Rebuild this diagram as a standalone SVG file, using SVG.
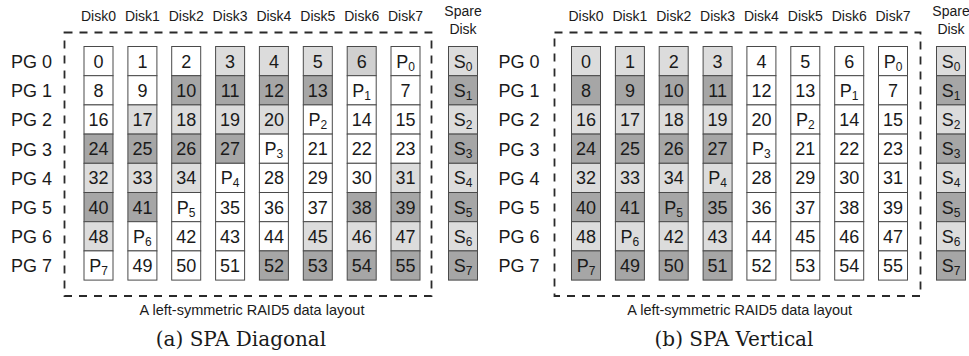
<svg xmlns="http://www.w3.org/2000/svg" width="969" height="356" viewBox="0 0 969 356">
<style>
rect.c{stroke:#4a4a4a;stroke-width:1}
.w{fill:#ffffff}
.l{fill:#dcdcdc}
.m{fill:#d0d0d0}
.d{fill:#a6a6a6}
text{font-family:"Liberation Sans",Arial,sans-serif;fill:#1a1a1a}
.n{font-size:18px;text-anchor:middle}
.pg{font-size:18px}
.hd{font-size:14px;text-anchor:middle}
.cap{font-size:14.5px;text-anchor:middle}
.sub{font-family:"DejaVu Serif","Liberation Serif",serif;font-size:20px;text-anchor:middle}
.box{fill:none;stroke:#2a2a2a;stroke-width:1.8;stroke-dasharray:8 7}
</style>

<!-- ===== Panel (a) ===== -->
<g id="panel-a">
<g id="a-frame"><rect class="box" x="64.5" y="32.5" width="367" height="263.5"/></g>
<g id="a-headers">
<text class="hd" x="98.5" y="21">Disk0</text>
<text class="hd" x="142.4" y="21">Disk1</text>
<text class="hd" x="186.2" y="21">Disk2</text>
<text class="hd" x="230.1" y="21">Disk3</text>
<text class="hd" x="273.9" y="21">Disk4</text>
<text class="hd" x="317.8" y="21">Disk5</text>
<text class="hd" x="361.7" y="21">Disk6</text>
<text class="hd" x="405.5" y="21">Disk7</text>
<text class="hd" x="463" y="16">Spare</text>
<text class="hd" x="463" y="34">Disk</text>
</g>
<g id="a-pg">
<text class="pg" x="11" y="68">PG 0</text>
<text class="pg" x="11" y="97.2">PG 1</text>
<text class="pg" x="11" y="126.4">PG 2</text>
<text class="pg" x="11" y="155.6">PG 3</text>
<text class="pg" x="11" y="184.8">PG 4</text>
<text class="pg" x="11" y="214">PG 5</text>
<text class="pg" x="11" y="243.2">PG 6</text>
<text class="pg" x="11" y="272.4">PG 7</text>
</g>
<g id="a-disk0" transform="translate(84,0)">
<rect class="c w" x="0" y="46.5" width="29" height="29.2"/><text class="n" x="14.5" y="67.6">0</text>
<rect class="c w" x="0" y="75.7" width="29" height="29.2"/><text class="n" x="14.5" y="96.8">8</text>
<rect class="c w" x="0" y="104.9" width="29" height="29.2"/><text class="n" x="14.5" y="126">16</text>
<rect class="c d" x="0" y="134.1" width="29" height="29.2"/><text class="n" x="14.5" y="155.2">24</text>
<rect class="c l" x="0" y="163.3" width="29" height="29.2"/><text class="n" x="14.5" y="184.4">32</text>
<rect class="c d" x="0" y="192.5" width="29" height="29.2"/><text class="n" x="14.5" y="213.6">40</text>
<rect class="c l" x="0" y="221.7" width="29" height="29.2"/><text class="n" x="14.5" y="242.8">48</text>
<rect class="c w" x="0" y="250.9" width="29" height="29.2"/><text class="n" x="14.5" y="272">P<tspan font-size="12" dy="3">7</tspan></text>
</g>
<g id="a-disk1" transform="translate(127.9,0)">
<rect class="c w" x="0" y="46.5" width="29" height="29.2"/><text class="n" x="14.5" y="67.6">1</text>
<rect class="c w" x="0" y="75.7" width="29" height="29.2"/><text class="n" x="14.5" y="96.8">9</text>
<rect class="c l" x="0" y="104.9" width="29" height="29.2"/><text class="n" x="14.5" y="126">17</text>
<rect class="c d" x="0" y="134.1" width="29" height="29.2"/><text class="n" x="14.5" y="155.2">25</text>
<rect class="c l" x="0" y="163.3" width="29" height="29.2"/><text class="n" x="14.5" y="184.4">33</text>
<rect class="c d" x="0" y="192.5" width="29" height="29.2"/><text class="n" x="14.5" y="213.6">41</text>
<rect class="c w" x="0" y="221.7" width="29" height="29.2"/><text class="n" x="14.5" y="242.8">P<tspan font-size="12" dy="3">6</tspan></text>
<rect class="c w" x="0" y="250.9" width="29" height="29.2"/><text class="n" x="14.5" y="272">49</text>
</g>
<g id="a-disk2" transform="translate(171.7,0)">
<rect class="c w" x="0" y="46.5" width="29" height="29.2"/><text class="n" x="14.5" y="67.6">2</text>
<rect class="c d" x="0" y="75.7" width="29" height="29.2"/><text class="n" x="14.5" y="96.8">10</text>
<rect class="c l" x="0" y="104.9" width="29" height="29.2"/><text class="n" x="14.5" y="126">18</text>
<rect class="c d" x="0" y="134.1" width="29" height="29.2"/><text class="n" x="14.5" y="155.2">26</text>
<rect class="c l" x="0" y="163.3" width="29" height="29.2"/><text class="n" x="14.5" y="184.4">34</text>
<rect class="c w" x="0" y="192.5" width="29" height="29.2"/><text class="n" x="14.5" y="213.6">P<tspan font-size="12" dy="3">5</tspan></text>
<rect class="c w" x="0" y="221.7" width="29" height="29.2"/><text class="n" x="14.5" y="242.8">42</text>
<rect class="c w" x="0" y="250.9" width="29" height="29.2"/><text class="n" x="14.5" y="272">50</text>
</g>
<g id="a-disk3" transform="translate(215.6,0)">
<rect class="c l" x="0" y="46.5" width="29" height="29.2"/><text class="n" x="14.5" y="67.6">3</text>
<rect class="c d" x="0" y="75.7" width="29" height="29.2"/><text class="n" x="14.5" y="96.8">11</text>
<rect class="c l" x="0" y="104.9" width="29" height="29.2"/><text class="n" x="14.5" y="126">19</text>
<rect class="c d" x="0" y="134.1" width="29" height="29.2"/><text class="n" x="14.5" y="155.2">27</text>
<rect class="c w" x="0" y="163.3" width="29" height="29.2"/><text class="n" x="14.5" y="184.4">P<tspan font-size="12" dy="3">4</tspan></text>
<rect class="c w" x="0" y="192.5" width="29" height="29.2"/><text class="n" x="14.5" y="213.6">35</text>
<rect class="c w" x="0" y="221.7" width="29" height="29.2"/><text class="n" x="14.5" y="242.8">43</text>
<rect class="c w" x="0" y="250.9" width="29" height="29.2"/><text class="n" x="14.5" y="272">51</text>
</g>
<g id="a-disk4" transform="translate(259.4,0)">
<rect class="c l" x="0" y="46.5" width="29" height="29.2"/><text class="n" x="14.5" y="67.6">4</text>
<rect class="c d" x="0" y="75.7" width="29" height="29.2"/><text class="n" x="14.5" y="96.8">12</text>
<rect class="c l" x="0" y="104.9" width="29" height="29.2"/><text class="n" x="14.5" y="126">20</text>
<rect class="c w" x="0" y="134.1" width="29" height="29.2"/><text class="n" x="14.5" y="155.2">P<tspan font-size="12" dy="3">3</tspan></text>
<rect class="c w" x="0" y="163.3" width="29" height="29.2"/><text class="n" x="14.5" y="184.4">28</text>
<rect class="c w" x="0" y="192.5" width="29" height="29.2"/><text class="n" x="14.5" y="213.6">36</text>
<rect class="c w" x="0" y="221.7" width="29" height="29.2"/><text class="n" x="14.5" y="242.8">44</text>
<rect class="c d" x="0" y="250.9" width="29" height="29.2"/><text class="n" x="14.5" y="272">52</text>
</g>
<g id="a-disk5" transform="translate(303.3,0)">
<rect class="c l" x="0" y="46.5" width="29" height="29.2"/><text class="n" x="14.5" y="67.6">5</text>
<rect class="c d" x="0" y="75.7" width="29" height="29.2"/><text class="n" x="14.5" y="96.8">13</text>
<rect class="c w" x="0" y="104.9" width="29" height="29.2"/><text class="n" x="14.5" y="126">P<tspan font-size="12" dy="3">2</tspan></text>
<rect class="c w" x="0" y="134.1" width="29" height="29.2"/><text class="n" x="14.5" y="155.2">21</text>
<rect class="c w" x="0" y="163.3" width="29" height="29.2"/><text class="n" x="14.5" y="184.4">29</text>
<rect class="c w" x="0" y="192.5" width="29" height="29.2"/><text class="n" x="14.5" y="213.6">37</text>
<rect class="c l" x="0" y="221.7" width="29" height="29.2"/><text class="n" x="14.5" y="242.8">45</text>
<rect class="c d" x="0" y="250.9" width="29" height="29.2"/><text class="n" x="14.5" y="272">53</text>
</g>
<g id="a-disk6" transform="translate(347.2,0)">
<rect class="c m" x="0" y="46.5" width="29" height="29.2"/><text class="n" x="14.5" y="67.6">6</text>
<rect class="c w" x="0" y="75.7" width="29" height="29.2"/><text class="n" x="14.5" y="96.8">P<tspan font-size="12" dy="3">1</tspan></text>
<rect class="c w" x="0" y="104.9" width="29" height="29.2"/><text class="n" x="14.5" y="126">14</text>
<rect class="c w" x="0" y="134.1" width="29" height="29.2"/><text class="n" x="14.5" y="155.2">22</text>
<rect class="c w" x="0" y="163.3" width="29" height="29.2"/><text class="n" x="14.5" y="184.4">30</text>
<rect class="c d" x="0" y="192.5" width="29" height="29.2"/><text class="n" x="14.5" y="213.6">38</text>
<rect class="c l" x="0" y="221.7" width="29" height="29.2"/><text class="n" x="14.5" y="242.8">46</text>
<rect class="c d" x="0" y="250.9" width="29" height="29.2"/><text class="n" x="14.5" y="272">54</text>
</g>
<g id="a-disk7" transform="translate(391,0)">
<rect class="c w" x="0" y="46.5" width="29" height="29.2"/><text class="n" x="14.5" y="67.6">P<tspan font-size="12" dy="3">0</tspan></text>
<rect class="c w" x="0" y="75.7" width="29" height="29.2"/><text class="n" x="14.5" y="96.8">7</text>
<rect class="c w" x="0" y="104.9" width="29" height="29.2"/><text class="n" x="14.5" y="126">15</text>
<rect class="c w" x="0" y="134.1" width="29" height="29.2"/><text class="n" x="14.5" y="155.2">23</text>
<rect class="c l" x="0" y="163.3" width="29" height="29.2"/><text class="n" x="14.5" y="184.4">31</text>
<rect class="c d" x="0" y="192.5" width="29" height="29.2"/><text class="n" x="14.5" y="213.6">39</text>
<rect class="c l" x="0" y="221.7" width="29" height="29.2"/><text class="n" x="14.5" y="242.8">47</text>
<rect class="c d" x="0" y="250.9" width="29" height="29.2"/><text class="n" x="14.5" y="272">55</text>
</g>
<g id="a-spare" transform="translate(448.5,0)">
<rect class="c l" x="0" y="46.5" width="29" height="29.2"/><text class="n" x="14.5" y="67.6">S<tspan font-size="12" dy="3">0</tspan></text>
<rect class="c d" x="0" y="75.7" width="29" height="29.2"/><text class="n" x="14.5" y="96.8">S<tspan font-size="12" dy="3">1</tspan></text>
<rect class="c l" x="0" y="104.9" width="29" height="29.2"/><text class="n" x="14.5" y="126">S<tspan font-size="12" dy="3">2</tspan></text>
<rect class="c d" x="0" y="134.1" width="29" height="29.2"/><text class="n" x="14.5" y="155.2">S<tspan font-size="12" dy="3">3</tspan></text>
<rect class="c l" x="0" y="163.3" width="29" height="29.2"/><text class="n" x="14.5" y="184.4">S<tspan font-size="12" dy="3">4</tspan></text>
<rect class="c d" x="0" y="192.5" width="29" height="29.2"/><text class="n" x="14.5" y="213.6">S<tspan font-size="12" dy="3">5</tspan></text>
<rect class="c l" x="0" y="221.7" width="29" height="29.2"/><text class="n" x="14.5" y="242.8">S<tspan font-size="12" dy="3">6</tspan></text>
<rect class="c d" x="0" y="250.9" width="29" height="29.2"/><text class="n" x="14.5" y="272">S<tspan font-size="12" dy="3">7</tspan></text>
</g>
<g id="a-captions">
<text class="cap" x="252" y="315">A left-symmetric RAID5 data layout</text>
<text class="sub" x="241" y="346">(a) SPA Diagonal</text>
</g>
</g>

<!-- ===== Panel (b) ===== -->
<g id="panel-b">
<g id="b-frame"><rect class="box" x="554.5" y="32.5" width="366" height="263.5"/></g>
<g id="b-headers">
<text class="hd" x="586" y="21">Disk0</text>
<text class="hd" x="629.9" y="21">Disk1</text>
<text class="hd" x="673.7" y="21">Disk2</text>
<text class="hd" x="717.6" y="21">Disk3</text>
<text class="hd" x="761.4" y="21">Disk4</text>
<text class="hd" x="805.3" y="21">Disk5</text>
<text class="hd" x="849.2" y="21">Disk6</text>
<text class="hd" x="893" y="21">Disk7</text>
<text class="hd" x="951" y="16">Spare</text>
<text class="hd" x="951" y="34">Disk</text>
</g>
<g id="b-pg">
<text class="pg" x="498.5" y="68">PG 0</text>
<text class="pg" x="498.5" y="97.2">PG 1</text>
<text class="pg" x="498.5" y="126.4">PG 2</text>
<text class="pg" x="498.5" y="155.6">PG 3</text>
<text class="pg" x="498.5" y="184.8">PG 4</text>
<text class="pg" x="498.5" y="214">PG 5</text>
<text class="pg" x="498.5" y="243.2">PG 6</text>
<text class="pg" x="498.5" y="272.4">PG 7</text>
</g>
<g id="b-disk0" transform="translate(571.5,0)">
<rect class="c l" x="0" y="46.5" width="29" height="29.2"/><text class="n" x="14.5" y="67.6">0</text>
<rect class="c d" x="0" y="75.7" width="29" height="29.2"/><text class="n" x="14.5" y="96.8">8</text>
<rect class="c l" x="0" y="104.9" width="29" height="29.2"/><text class="n" x="14.5" y="126">16</text>
<rect class="c d" x="0" y="134.1" width="29" height="29.2"/><text class="n" x="14.5" y="155.2">24</text>
<rect class="c l" x="0" y="163.3" width="29" height="29.2"/><text class="n" x="14.5" y="184.4">32</text>
<rect class="c d" x="0" y="192.5" width="29" height="29.2"/><text class="n" x="14.5" y="213.6">40</text>
<rect class="c l" x="0" y="221.7" width="29" height="29.2"/><text class="n" x="14.5" y="242.8">48</text>
<rect class="c d" x="0" y="250.9" width="29" height="29.2"/><text class="n" x="14.5" y="272">P<tspan font-size="12" dy="3">7</tspan></text>
</g>
<g id="b-disk1" transform="translate(615.4,0)">
<rect class="c l" x="0" y="46.5" width="29" height="29.2"/><text class="n" x="14.5" y="67.6">1</text>
<rect class="c d" x="0" y="75.7" width="29" height="29.2"/><text class="n" x="14.5" y="96.8">9</text>
<rect class="c l" x="0" y="104.9" width="29" height="29.2"/><text class="n" x="14.5" y="126">17</text>
<rect class="c d" x="0" y="134.1" width="29" height="29.2"/><text class="n" x="14.5" y="155.2">25</text>
<rect class="c l" x="0" y="163.3" width="29" height="29.2"/><text class="n" x="14.5" y="184.4">33</text>
<rect class="c d" x="0" y="192.5" width="29" height="29.2"/><text class="n" x="14.5" y="213.6">41</text>
<rect class="c l" x="0" y="221.7" width="29" height="29.2"/><text class="n" x="14.5" y="242.8">P<tspan font-size="12" dy="3">6</tspan></text>
<rect class="c d" x="0" y="250.9" width="29" height="29.2"/><text class="n" x="14.5" y="272">49</text>
</g>
<g id="b-disk2" transform="translate(659.2,0)">
<rect class="c l" x="0" y="46.5" width="29" height="29.2"/><text class="n" x="14.5" y="67.6">2</text>
<rect class="c d" x="0" y="75.7" width="29" height="29.2"/><text class="n" x="14.5" y="96.8">10</text>
<rect class="c l" x="0" y="104.9" width="29" height="29.2"/><text class="n" x="14.5" y="126">18</text>
<rect class="c d" x="0" y="134.1" width="29" height="29.2"/><text class="n" x="14.5" y="155.2">26</text>
<rect class="c l" x="0" y="163.3" width="29" height="29.2"/><text class="n" x="14.5" y="184.4">34</text>
<rect class="c d" x="0" y="192.5" width="29" height="29.2"/><text class="n" x="14.5" y="213.6">P<tspan font-size="12" dy="3">5</tspan></text>
<rect class="c l" x="0" y="221.7" width="29" height="29.2"/><text class="n" x="14.5" y="242.8">42</text>
<rect class="c d" x="0" y="250.9" width="29" height="29.2"/><text class="n" x="14.5" y="272">50</text>
</g>
<g id="b-disk3" transform="translate(703.1,0)">
<rect class="c l" x="0" y="46.5" width="29" height="29.2"/><text class="n" x="14.5" y="67.6">3</text>
<rect class="c d" x="0" y="75.7" width="29" height="29.2"/><text class="n" x="14.5" y="96.8">11</text>
<rect class="c l" x="0" y="104.9" width="29" height="29.2"/><text class="n" x="14.5" y="126">19</text>
<rect class="c d" x="0" y="134.1" width="29" height="29.2"/><text class="n" x="14.5" y="155.2">27</text>
<rect class="c l" x="0" y="163.3" width="29" height="29.2"/><text class="n" x="14.5" y="184.4">P<tspan font-size="12" dy="3">4</tspan></text>
<rect class="c d" x="0" y="192.5" width="29" height="29.2"/><text class="n" x="14.5" y="213.6">35</text>
<rect class="c l" x="0" y="221.7" width="29" height="29.2"/><text class="n" x="14.5" y="242.8">43</text>
<rect class="c d" x="0" y="250.9" width="29" height="29.2"/><text class="n" x="14.5" y="272">51</text>
</g>
<g id="b-disk4" transform="translate(746.9,0)">
<rect class="c w" x="0" y="46.5" width="29" height="29.2"/><text class="n" x="14.5" y="67.6">4</text>
<rect class="c w" x="0" y="75.7" width="29" height="29.2"/><text class="n" x="14.5" y="96.8">12</text>
<rect class="c w" x="0" y="104.9" width="29" height="29.2"/><text class="n" x="14.5" y="126">20</text>
<rect class="c w" x="0" y="134.1" width="29" height="29.2"/><text class="n" x="14.5" y="155.2">P<tspan font-size="12" dy="3">3</tspan></text>
<rect class="c w" x="0" y="163.3" width="29" height="29.2"/><text class="n" x="14.5" y="184.4">28</text>
<rect class="c w" x="0" y="192.5" width="29" height="29.2"/><text class="n" x="14.5" y="213.6">36</text>
<rect class="c w" x="0" y="221.7" width="29" height="29.2"/><text class="n" x="14.5" y="242.8">44</text>
<rect class="c w" x="0" y="250.9" width="29" height="29.2"/><text class="n" x="14.5" y="272">52</text>
</g>
<g id="b-disk5" transform="translate(790.8,0)">
<rect class="c w" x="0" y="46.5" width="29" height="29.2"/><text class="n" x="14.5" y="67.6">5</text>
<rect class="c w" x="0" y="75.7" width="29" height="29.2"/><text class="n" x="14.5" y="96.8">13</text>
<rect class="c w" x="0" y="104.9" width="29" height="29.2"/><text class="n" x="14.5" y="126">P<tspan font-size="12" dy="3">2</tspan></text>
<rect class="c w" x="0" y="134.1" width="29" height="29.2"/><text class="n" x="14.5" y="155.2">21</text>
<rect class="c w" x="0" y="163.3" width="29" height="29.2"/><text class="n" x="14.5" y="184.4">29</text>
<rect class="c w" x="0" y="192.5" width="29" height="29.2"/><text class="n" x="14.5" y="213.6">37</text>
<rect class="c w" x="0" y="221.7" width="29" height="29.2"/><text class="n" x="14.5" y="242.8">45</text>
<rect class="c w" x="0" y="250.9" width="29" height="29.2"/><text class="n" x="14.5" y="272">53</text>
</g>
<g id="b-disk6" transform="translate(834.7,0)">
<rect class="c w" x="0" y="46.5" width="29" height="29.2"/><text class="n" x="14.5" y="67.6">6</text>
<rect class="c w" x="0" y="75.7" width="29" height="29.2"/><text class="n" x="14.5" y="96.8">P<tspan font-size="12" dy="3">1</tspan></text>
<rect class="c w" x="0" y="104.9" width="29" height="29.2"/><text class="n" x="14.5" y="126">14</text>
<rect class="c w" x="0" y="134.1" width="29" height="29.2"/><text class="n" x="14.5" y="155.2">22</text>
<rect class="c w" x="0" y="163.3" width="29" height="29.2"/><text class="n" x="14.5" y="184.4">30</text>
<rect class="c w" x="0" y="192.5" width="29" height="29.2"/><text class="n" x="14.5" y="213.6">38</text>
<rect class="c w" x="0" y="221.7" width="29" height="29.2"/><text class="n" x="14.5" y="242.8">46</text>
<rect class="c w" x="0" y="250.9" width="29" height="29.2"/><text class="n" x="14.5" y="272">54</text>
</g>
<g id="b-disk7" transform="translate(878.5,0)">
<rect class="c w" x="0" y="46.5" width="29" height="29.2"/><text class="n" x="14.5" y="67.6">P<tspan font-size="12" dy="3">0</tspan></text>
<rect class="c w" x="0" y="75.7" width="29" height="29.2"/><text class="n" x="14.5" y="96.8">7</text>
<rect class="c w" x="0" y="104.9" width="29" height="29.2"/><text class="n" x="14.5" y="126">15</text>
<rect class="c w" x="0" y="134.1" width="29" height="29.2"/><text class="n" x="14.5" y="155.2">23</text>
<rect class="c w" x="0" y="163.3" width="29" height="29.2"/><text class="n" x="14.5" y="184.4">31</text>
<rect class="c w" x="0" y="192.5" width="29" height="29.2"/><text class="n" x="14.5" y="213.6">39</text>
<rect class="c w" x="0" y="221.7" width="29" height="29.2"/><text class="n" x="14.5" y="242.8">47</text>
<rect class="c w" x="0" y="250.9" width="29" height="29.2"/><text class="n" x="14.5" y="272">55</text>
</g>
<g id="b-spare" transform="translate(936.5,0)">
<rect class="c l" x="0" y="46.5" width="29" height="29.2"/><text class="n" x="14.5" y="67.6">S<tspan font-size="12" dy="3">0</tspan></text>
<rect class="c d" x="0" y="75.7" width="29" height="29.2"/><text class="n" x="14.5" y="96.8">S<tspan font-size="12" dy="3">1</tspan></text>
<rect class="c l" x="0" y="104.9" width="29" height="29.2"/><text class="n" x="14.5" y="126">S<tspan font-size="12" dy="3">2</tspan></text>
<rect class="c d" x="0" y="134.1" width="29" height="29.2"/><text class="n" x="14.5" y="155.2">S<tspan font-size="12" dy="3">3</tspan></text>
<rect class="c l" x="0" y="163.3" width="29" height="29.2"/><text class="n" x="14.5" y="184.4">S<tspan font-size="12" dy="3">4</tspan></text>
<rect class="c d" x="0" y="192.5" width="29" height="29.2"/><text class="n" x="14.5" y="213.6">S<tspan font-size="12" dy="3">5</tspan></text>
<rect class="c l" x="0" y="221.7" width="29" height="29.2"/><text class="n" x="14.5" y="242.8">S<tspan font-size="12" dy="3">6</tspan></text>
<rect class="c d" x="0" y="250.9" width="29" height="29.2"/><text class="n" x="14.5" y="272">S<tspan font-size="12" dy="3">7</tspan></text>
</g>
<g id="b-captions">
<text class="cap" x="739.7" y="315">A left-symmetric RAID5 data layout</text>
<text class="sub" x="734" y="346">(b) SPA Vertical</text>
</g>
</g>
</svg>
